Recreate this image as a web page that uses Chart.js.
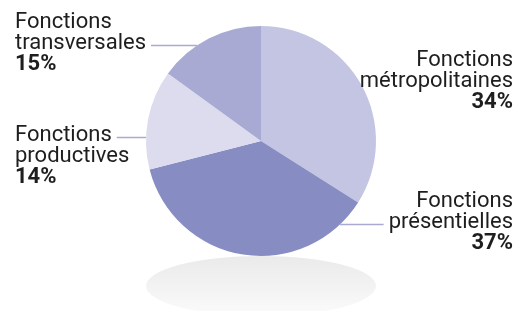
<!DOCTYPE html>
<html>
<head>
<meta charset="utf-8">
<script src="https://cdn.jsdelivr.net/npm/chart.js@4"></script>
<style>
  html, body { margin: 0; padding: 0; background: #fff; }
  #wrap { width: 530px; height: 311px; position: relative; }
</style>
</head>
<body>
<div id="wrap"><canvas id="pie"></canvas></div>
<script>
const categories = ['Fonctions métropolitaines', 'Fonctions présentielles', 'Fonctions productives', 'Fonctions transversales'];
const labelLines = [['Fonctions', 'métropolitaines'], ['Fonctions', 'présentielles'], ['Fonctions', 'productives'], ['Fonctions', 'transversales']];
const values = [34, 37, 14, 15];
const sliceColors = ['#c4c5e2', '#878dc3', '#dcdcee', '#a8aad3'];

// label placement: side, text anchor x, first baseline y, leader line row (or -1)
const labelPos = [
    { align: 'right', x: 513, y: 66, line: -1 },
    { align: 'right', x: 513, y: 207, line: 1 },
    { align: 'left', x: 15, y: 141, line: 0 },
    { align: 'left', x: 15, y: 28, line: 1 }
];

const FONT = 'Roboto, "DejaVu Sans", sans-serif';
const LH = 21;

const shadowPlugin = {
    id: 'shadow',
    beforeDatasetsDraw(chart) {
        const arc = chart.getDatasetMeta(0).data[0];
        if (!arc) return;
        const ctx = chart.ctx;
        const r = arc.outerRadius;
        const cx = arc.x, cy = arc.y + r + 30;
        ctx.save();
        ctx.beginPath();
        ctx.ellipse(cx, cy, r, 30, 0, 0, Math.PI * 2);
        const g = ctx.createLinearGradient(0, cy - 30, 0, cy + 30);
        g.addColorStop(0, '#eaeaea');
        g.addColorStop(1, '#fbfbfb');
        ctx.fillStyle = g;
        ctx.fill();
        ctx.restore();
    }
};

const labelPlugin = {
    id: 'sideLabels',
    afterDraw(chart) {
        const ctx = chart.ctx;
        const arc0 = chart.getDatasetMeta(0).data[0];
        const cx = arc0.x, cy = arc0.y, r = arc0.outerRadius;
        ctx.save();
        ctx.textBaseline = 'alphabetic';
        labelPos.forEach((p, i) => {
            const lines = labelLines[i].concat([values[i] + '%']);
            ctx.textAlign = p.align;
            lines.forEach((t, k) => {
                const bold = k === lines.length - 1;
                ctx.font = (bold ? 'bold ' : '') + '22px ' + FONT;
                ctx.fillStyle = '#1e1e1e';
                ctx.fillText(t, p.x, p.y + k * LH);
            });
            if (p.line >= 0) {
                const ly = p.y + p.line * LH - 3.5;
                ctx.font = '22px ' + FONT;
                const w = ctx.measureText(lines[p.line]).width;
                const dx = Math.sqrt(Math.max(0, r * r - (ly - cy) * (ly - cy)));
                ctx.strokeStyle = '#a8aad3';
                ctx.lineWidth = 1.5;
                ctx.beginPath();
                if (p.align === 'left') {
                    ctx.moveTo(p.x + w + 5, ly);
                    ctx.lineTo(cx - dx, ly);
                } else {
                    ctx.moveTo(p.x - w - 5, ly);
                    ctx.lineTo(cx + dx, ly);
                }
                ctx.stroke();
            }
        });
        ctx.restore();
    }
};

new Chart(document.getElementById('pie').getContext('2d'), {
    type: 'pie',
    data: {
        labels: categories,
        datasets: [{
            data: values,
            backgroundColor: sliceColors,
            borderWidth: 0
        }]
    },
    options: {
        responsive: true,
        maintainAspectRatio: false,
        animation: false,
        layout: { padding: { left: 146, right: 154, top: 26, bottom: 55 } },
        plugins: {
            legend: { display: false },
            tooltip: { enabled: false }
        }
    },
    plugins: [shadowPlugin, labelPlugin]
});
</script>
</body>
</html>
